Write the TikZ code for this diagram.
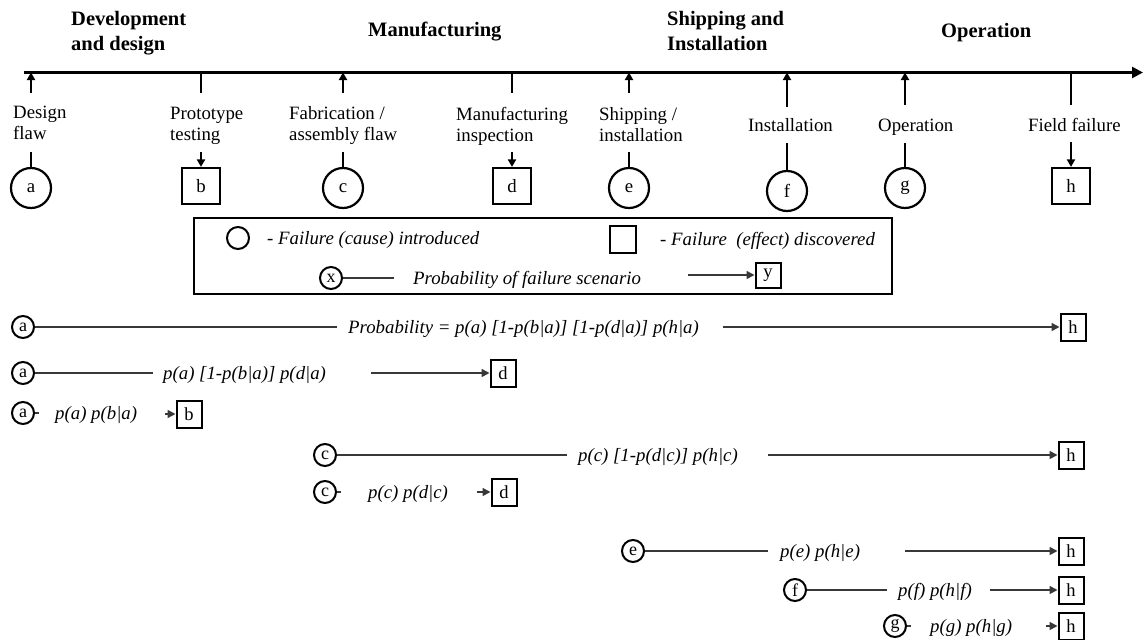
\documentclass[tikz,border=0pt]{standalone}
\usepackage{fontspec}
\setmainfont{Liberation Serif}
\usetikzlibrary{arrows.meta,calc}
\begin{document}
\begin{tikzpicture}[x=1pt,y=-1pt,
  lbl/.style={font=\fontsize{18.8}{21}\selectfont, inner sep=0, align=left, anchor=north west},
  lblone/.style={font=\fontsize{18.8}{21}\selectfont, inner sep=0, anchor=base west},
  phase/.style={font=\fontsize{20.5}{25}\selectfont\bfseries, inner sep=0, align=left, anchor=north west},
  phaseone/.style={font=\fontsize{20.5}{25}\selectfont\bfseries, inner sep=0, anchor=base west},
  axis/.style={line width=2.6pt},
  tick/.style={line width=2.3pt},
  tipstart/.style={{Triangle[length=7.5pt,width=8pt]}-},
  cause/.style={circle, draw, line width=2.2pt, minimum size=40pt, inner sep=0, font=\fontsize{18.8}{21}\selectfont},
  effect/.style={rectangle, draw, line width=2.2pt, minimum width=38pt, minimum height=36pt, inner sep=0, font=\fontsize{18.8}{21}\selectfont},
  scause/.style={circle, draw, line width=2pt, minimum size=22pt, inner sep=0, font=\fontsize{18}{18}\selectfont},
  seffect/.style={rectangle, draw, line width=2pt, minimum width=25pt, minimum height=27pt, inner sep=0, font=\fontsize{18.5}{18.5}\selectfont},
  prob/.style={font=\fontsize{18.8}{21}\selectfont\itshape, inner sep=0, anchor=base west},
  link/.style={line width=1.6pt, draw=black!78},
  linkto/.style={link, -{Triangle[length=8pt,width=8pt]}},
]
\useasboundingbox (0,0) rectangle (1144,640);

% ---------- life-cycle phases ----------
\node[phase] (phDev) at (71,11) {Development\\and design};
\node[phaseone] (phMan) at (368,36) {Manufacturing};
\node[phase] (phShip) at (667,11) {Shipping and\\Installation};
\node[phaseone] (phOp) at (941,37) {Operation};

% ---------- time axis ----------
\coordinate (axS) at (24,72.5);
\coordinate (axE) at (1143,72.5);
\draw[axis,-{Triangle[length=11pt,width=11pt]}] (axS) -- (axE);

\coordinate (tA) at (31,72.5);
\coordinate (tB) at (201,72.5);
\coordinate (tC) at (343,72.5);
\coordinate (tD) at (512,72.5);
\coordinate (tE) at (629,72.5);
\coordinate (tF) at (787,72.5);
\coordinate (tG) at (905,72.5);
\coordinate (tH) at (1071,72.5);

\draw[tick,tipstart] (tA) -- ++(0,20.5);
\draw[tick] (tB) -- ++(0,20.5);
\draw[tick,tipstart] (tC) -- ++(0,20.5);
\draw[tick] (tD) -- ++(0,20.5);
\draw[tick,tipstart] (tE) -- ++(0,20.5);
\draw[tick,tipstart] (tF) -- ++(0,34.5);
\draw[tick,tipstart] (tG) -- ++(0,32.5);
\draw[tick] (tH) -- ++(0,32.5);

% ---------- events ----------
\node[lbl] (lA) at (13,106.2) {Design\\flaw};
\node[lbl] (lB) at (170,106.6) {Prototype\\testing};
\node[lbl] (lC) at (289,106.6) {Fabrication /\\assembly flaw};
\node[lbl] (lD) at (456,106.6) {Manufacturing\\inspection};
\node[lbl] (lE) at (599,107.2) {Shipping /\\installation};
\node[lblone] (lF) at (748,131) {Installation};
\node[lblone] (lG) at (878,131) {Operation};
\node[lblone] (lH) at (1028,131) {Field failure};

\node[cause]  (A) at (31,188) {a};
\node[effect] (B) at (201,186) {b};
\node[cause]  (C) at (343,188) {c};
\node[effect] (D) at (512,186) {d};
\node[cause]  (E) at (629,188) {e};
\node[cause]  (F) at (787,191) {f};
\node[cause]  (G) at (905,188) {g};
\node[effect] (H) at (1071,186) {h};

\draw[tick] (A.north) -- ++(0,-15);
\draw[tick,tipstart] (B.north) -- ++(0,-15);
\draw[tick] (C.north) -- ++(0,-15);
\draw[tick,tipstart] (D.north) -- ++(0,-15);
\draw[tick] (E.north) -- ++(0,-15);
\draw[tick] (F.north) -- ++(0,-27);
\draw[tick] (G.north) -- ++(0,-24);
\draw[tick,tipstart] (H.north) -- ++(0,-25);

% ---------- legend ----------
\node[draw, line width=2.2pt, minimum width=698pt, minimum height=76pt, inner sep=0] (legend) at (543,256) {};
\node[circle, draw, line width=2pt, minimum size=22pt, inner sep=0] (lgC) at (238,238) {};
\node[prob] (lgCt) at (267,244) {- Failure (cause) introduced};
\node[rectangle, draw, line width=2pt, minimum width=26pt, minimum height=27pt, inner sep=0] (lgS) at (623,239) {};
\node[prob] (lgSt) at (660,245) {- Failure\ \ (effect) discovered};
\node[scause] (lgX) at (331,278) {x};
\node[prob] (lgP) at (413,284) {Probability of failure scenario};
\node[seffect, minimum height=25pt] (lgY) at (768,275) {y};
\coordinate (lgX1) at (394,278);
\coordinate (lgY0) at (688,275);
\draw[link] (lgX.east) -- (lgX1);
\draw[linkto] (lgY0) -- (lgY.west);

% ---------- failure scenarios ----------
% a -> h
\node[scause] (s1a) at (23,327) {a};
\node[prob] (s1p) at (348,333) {Probability = p(a) [1-p(b|a)] [1-p(d|a)] p(h|a)};
\node[seffect] (s1h) at (1073,327) {h};
\coordinate (s1m) at (337,327);
\coordinate (s1n) at (723,327);
\draw[link] (s1a.east) -- (s1m);
\draw[linkto] (s1n) -- (s1h.west);

% a -> d
\node[scause] (s2a) at (23,373) {a};
\node[prob] (s2p) at (163,379) {p(a) [1-p(b|a)] p(d|a)};
\node[seffect] (s2d) at (503,373) {d};
\coordinate (s2m) at (153,373);
\coordinate (s2n) at (371,373);
\draw[link] (s2a.east) -- (s2m);
\draw[linkto] (s2n) -- (s2d.west);

% a -> b
\node[scause] (s3a) at (23,413) {a};
\node[prob] (s3p) at (55,419) {p(a) p(b|a)};
\node[seffect] (s3b) at (189,414) {b};
\coordinate (s3m) at (39,413);
\coordinate (s3n) at (165,414);
\draw[link] (s3a.east) -- (s3m);
\draw[linkto] (s3n) -- (s3b.west);

% c -> h
\node[scause] (s4c) at (325,455) {c};
\node[prob] (s4p) at (578,461) {p(c) [1-p(d|c)] p(h|c)};
\node[seffect] (s4h) at (1071,455) {h};
\coordinate (s4m) at (567,455);
\coordinate (s4n) at (768,455);
\draw[link] (s4c.east) -- (s4m);
\draw[linkto] (s4n) -- (s4h.west);

% c -> d
\node[scause] (s5c) at (325,492) {c};
\node[prob] (s5p) at (368,498) {p(c) p(d|c)};
\node[seffect] (s5d) at (504,492) {d};
\coordinate (s5m) at (341,492);
\coordinate (s5n) at (477,492);
\draw[link] (s5c.east) -- (s5m);
\draw[linkto] (s5n) -- (s5d.west);

% e -> h
\node[scause] (s6e) at (633,551) {e};
\node[prob] (s6p) at (780,557) {p(e) p(h|e)};
\node[seffect] (s6h) at (1071,551) {h};
\coordinate (s6m) at (768,551);
\coordinate (s6n) at (905,551);
\draw[link] (s6e.east) -- (s6m);
\draw[linkto] (s6n) -- (s6h.west);

% f -> h
\node[scause] (s7f) at (795,590) {f};
\node[prob] (s7p) at (898,596) {p(f) p(h|f)};
\node[seffect] (s7h) at (1071,590) {h};
\coordinate (s7m) at (887,590);
\coordinate (s7n) at (990,590);
\draw[link] (s7f.east) -- (s7m);
\draw[linkto] (s7n) -- (s7h.west);

% g -> h
\node[scause] (s8g) at (895,626) {g};
\node[prob] (s8p) at (930,632) {p(g) p(h|g)};
\node[seffect] (s8h) at (1071,626) {h};
\coordinate (s8m) at (911,626);
\coordinate (s8n) at (1046,626);
\draw[link] (s8g.east) -- (s8m);
\draw[linkto] (s8n) -- (s8h.west);
\end{tikzpicture}
\end{document}
